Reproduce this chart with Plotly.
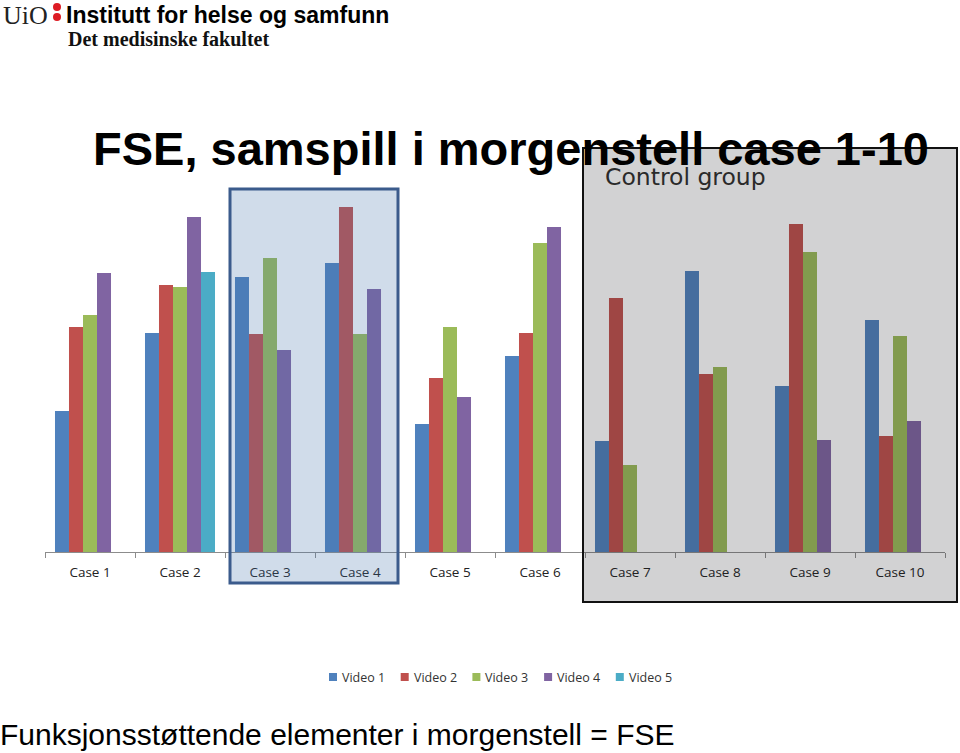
import plotly.graph_objects as go

# categories and series values (bar heights, arbitrary units)
cases = ["Case 1", "Case 2", "Case 3", "Case 4", "Case 5",
         "Case 6", "Case 7", "Case 8", "Case 9", "Case 10"]
video_1 = [141, 219, 275, 289, 128, 196, 111, 281, 166, 232]
video_2 = [225, 267, 218, 345, 174, 219, 254, 178, 328, 116]
video_3 = [237, 265, 294, 218, 225, 309, 87, 185, 300, 216]
video_4 = [279, 335, 202, 263, 155, 325, None, None, 112, 131]
video_5 = [None, 280, None, None, None, None, None, None, None, None]

series = {
    "Video 1": (video_1, "#4F81BD"),
    "Video 2": (video_2, "#C0504D"),
    "Video 3": (video_3, "#9BBB59"),
    "Video 4": (video_4, "#8064A2"),
    "Video 5": (video_5, "#4BACC6"),
}

W, H = 960, 753
L, R, T, B = 45, 15, 190, 201
PW = W - L - R
PH = H - T - B


def fx(p):
    return (p - L) / PW


def fy(p):
    return (H - B - p) / PH


fig = go.Figure()
for name, (vals, col) in series.items():
    fig.add_trace(go.Bar(
        x=cases, y=vals, name=name, showlegend=False,
        marker=dict(color=col, line=dict(width=0)),
    ))

arial = "Liberation Sans, Arial, sans-serif"
serif = "Liberation Serif, Times New Roman, serif"
small = "Open Sans, sans-serif"

# highlighted cases 3-4 and the control group
fig.add_shape(type="rect", xref="paper", yref="paper",
              x0=fx(230), x1=fx(398), y0=fy(583), y1=fy(189),
              fillcolor="rgba(67,115,171,0.25)",
              line=dict(color="#3B5B8C", width=3), layer="above")
fig.add_shape(type="rect", xref="paper", yref="paper",
              x0=fx(583), x1=fx(957), y0=fy(602), y1=fy(148),
              fillcolor="rgba(30,30,34,0.2)",
              line=dict(color="#111111", width=2), layer="above")

# UiO logo dots
for cy in [7, 17]:
    fig.add_shape(type="circle", xref="paper", yref="paper",
                  x0=fx(53), x1=fx(61), y0=fy(cy + 4), y1=fy(cy - 4),
                  fillcolor="#DD1C24", line=dict(width=0), layer="above")

# legend drawn by hand so the entries sit as tightly as in the original
for i, (name, (vals, col)) in enumerate(series.items()):
    left = 329 + i * 71.7
    fig.add_shape(type="rect", xref="paper", yref="paper",
                  x0=fx(left), x1=fx(left + 8), y0=fy(681), y1=fy(673),
                  fillcolor=col, line=dict(width=0))
    fig.add_annotation(text=name, xref="paper", yref="paper", x=fx(left + 11), y=fy(677),
                       xanchor="left", yanchor="middle", showarrow=False,
                       font=dict(family=small, size=12.5, color="#333"))

annots = [
    dict(text="UiO", x=fx(1), y=fy(15), font=dict(family=serif, size=26, color="#222")),
    dict(text="<b>Institutt for helse og samfunn</b>", x=fx(64), y=fy(15),
         font=dict(family=arial, size=23, color="#000")),
    dict(text="<b>Det medisinske fakultet</b>", x=fx(66), y=fy(39),
         font=dict(family=serif, size=20, color="#111")),
    dict(text="<b>FSE, samspill i morgenstell case 1-10</b>", x=fx(91), y=fy(148),
         font=dict(family=arial, size=47, color="#000")),
    dict(text="Control group", x=fx(603), y=fy(177),
         font=dict(family="DejaVu Sans, sans-serif", size=23.5, color="#2a2a2a")),
    dict(text="Funksjonsstøttende elementer i morgenstell = FSE", x=fx(-2), y=fy(734),
         font=dict(family=arial, size=30, color="#000")),
]
for a in annots:
    fig.add_annotation(xref="paper", yref="paper", xanchor="left", yanchor="middle",
                       showarrow=False, **a)

fig.update_layout(
    width=W, height=H,
    margin=dict(l=L, r=R, t=T, b=B),
    paper_bgcolor="white", plot_bgcolor="rgba(0,0,0,0)",
    barmode="group", bargap=0.222, bargroupgap=0,
    showlegend=False,
    xaxis=dict(showline=True, linecolor="#8C8C8C", linewidth=1,
               ticks="outside", tickson="boundaries", ticklen=5, tickcolor="#8C8C8C",
               ticklabelstandoff=8,
               tickfont=dict(family=small, size=13.5, color="#222"),
               showgrid=False, zeroline=False),
    yaxis=dict(range=[0, PH], visible=False, showgrid=False, zeroline=False),
)

# drop the browser's default body margin so the figure sits at the page corner
fig.write_html("out.html", config={"displayModeBar": False},
               post_script="document.body.style.margin='0';")
